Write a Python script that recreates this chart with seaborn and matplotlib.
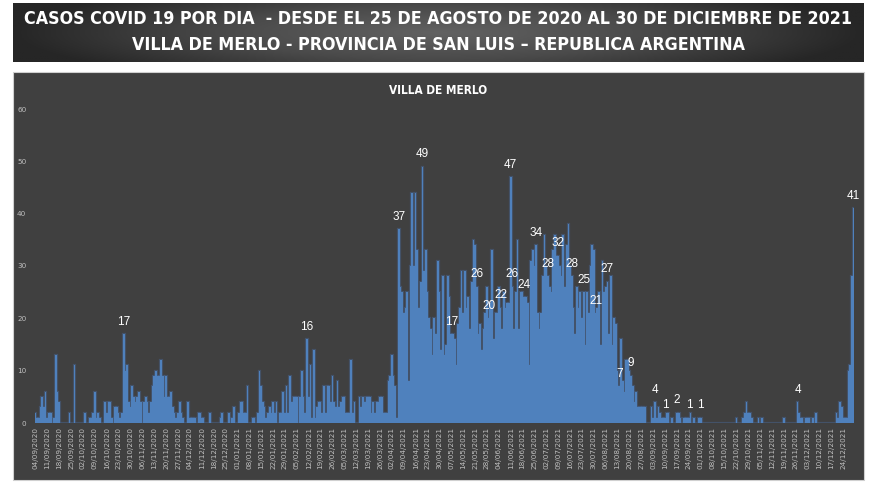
import numpy as np
import pandas as pd
import matplotlib
matplotlib.use("Agg")
import matplotlib.pyplot as plt
import seaborn as sns
from matplotlib import font_manager as fm
from matplotlib.colors import LinearSegmentedColormap
from matplotlib.patches import Rectangle

# ---------------- data (daily cases) ----------------
start_date = "2020-09-04"
sep_2020 = [2, 1, 1, 3, 5, 3, 6, 1, 2, 2, 0, 1, 13, 6, 4, 0, 0, 0, 0, 0, 2, 0, 0, 11, 0, 0, 0]
oct_2020 = [0, 0, 2, 0, 0, 1, 1, 2, 6, 1, 2, 1, 0, 0, 4, 2, 4, 4, 1, 0, 3, 3, 2, 1, 2, 17, 10, 11, 4, 3, 7]
nov_2020 = [5, 4, 5, 6, 4, 0, 4, 5, 4, 2, 4, 7, 9, 10, 9, 9, 12, 9, 5, 9, 5, 5, 6, 3, 2, 1, 2, 4, 2, 1]
dec_2020 = [0, 0, 4, 1, 1, 1, 1, 0, 2, 2, 1, 1, 0, 0, 0, 2, 0, 0, 0, 0, 0, 1, 2, 0, 0, 0, 2, 0, 1, 3, 0]
jan_2021 = [0, 2, 4, 4, 2, 2, 7, 0, 0, 1, 1, 0, 2, 10, 7, 4, 3, 1, 2, 3, 2, 4, 2, 4, 0, 2, 2, 6, 2, 7, 2]
feb_2021 = [9, 4, 5, 5, 5, 0, 5, 10, 5, 2, 16, 5, 11, 1, 14, 1, 3, 4, 4, 2, 7, 2, 7, 7, 4, 9, 4, 3]
mar_2021 = [8, 3, 4, 5, 5, 2, 2, 2, 12, 2, 4, 0, 0, 5, 3, 5, 4, 5, 5, 5, 2, 4, 2, 4, 4, 5, 5, 2, 2, 2, 8]
apr_2021 = [9, 13, 9, 7, 1, 37, 26, 25, 21, 22, 25, 8, 30, 44, 30, 44, 33, 22, 27, 49,
            29, 33, 25, 20, 18, 13, 20, 17, 31, 25]
may_2021 = [14, 28, 13, 15, 28, 24, 17, 17, 16, 11, 19, 22, 29, 21, 29, 22, 24, 18, 27, 35,
            34, 26, 17, 19, 14, 18, 21, 26, 20, 23, 33]
jun_2021 = [16, 21, 21, 26, 22, 18, 25, 22, 23, 23, 47, 26, 18, 25, 35, 18, 25, 25, 24, 24,
            23, 11, 31, 33, 30, 34, 21, 18, 21, 28]
jul_2021 = [36, 30, 28, 26, 25, 33, 36, 32, 32, 30, 28, 36, 26, 34, 38, 30, 28, 22, 17, 26,
            22, 25, 20, 25, 15, 25, 21, 30, 34, 33, 21]
aug_2021 = [22, 25, 15, 31, 25, 26, 27, 17, 28, 15, 20, 19, 10, 7, 16, 8, 6, 12, 12, 10,
            9, 7, 4, 6, 3, 3, 3, 3, 3, 0, 0]
sep_2021 = [0, 3, 1, 4, 1, 3, 2, 1, 1, 1, 2, 2, 0, 1, 0, 0, 2, 2, 1, 0, 1, 1, 1, 1, 2, 0, 1, 0, 0, 1]
oct_2021 = [1, 0, 0, 0, 0, 0, 0, 0, 0, 0, 0, 0, 0, 0, 0, 0, 0, 0, 0, 0, 0, 1, 0, 0, 0, 1, 2, 4, 2, 2, 1]
nov_2021 = [0, 0, 0, 1, 0, 1, 0, 0, 0, 0, 0, 0, 0, 0, 0, 0, 0, 0, 1, 0, 0, 0, 0, 0, 0, 0, 4, 2, 1, 1]
dec_2021 = [0, 1, 1, 1, 0, 1, 0, 2, 0, 0, 0, 0, 0, 0, 0, 0, 0, 0, 0, 2, 1, 4, 3, 1, 1, 1, 10, 11, 28, 41]

label_dates = ["2020-10-26", "2021-02-11", "2021-04-06", "2021-04-20", "2021-05-07",
               "2021-05-22", "2021-05-29", "2021-06-05", "2021-06-11", "2021-06-12",
               "2021-06-19", "2021-06-26", "2021-07-03", "2021-07-09", "2021-07-17",
               "2021-07-24", "2021-07-31", "2021-08-07", "2021-08-14", "2021-08-21",
               "2021-09-04", "2021-09-10", "2021-09-17", "2021-09-24", "2021-10-01",
               "2021-11-27", "2021-12-30"]

title_line1 = "CASOS COVID 19 POR DIA  - DESDE EL 25 DE AGOSTO DE 2020 AL 30 DE DICIEMBRE DE 2021"
title_line2 = "VILLA DE MERLO - PROVINCIA DE SAN LUIS \u2013 REPUBLICA ARGENTINA"
panel_title = "VILLA DE MERLO"
y_ticks = [0, 10, 20, 30, 40, 50, 60]
tick_every_days = 7

cases = (sep_2020 + oct_2020 + nov_2020 + dec_2020 + jan_2021 + feb_2021 + mar_2021 +
         apr_2021 + may_2021 + jun_2021 + jul_2021 + aug_2021 + sep_2021 + oct_2021 +
         nov_2021 + dec_2021)
dates = pd.date_range(start_date, periods=len(cases), freq="D")
df = pd.DataFrame({"pos": np.arange(len(cases)), "casos": cases})

# ---------------- style ----------------
sns.set_theme(style="white")
names = {f.name for f in fm.fontManager.ttflist}
narrow = ["Liberation Sans Narrow", "DejaVu Sans"] if "Liberation Sans Narrow" in names else ["DejaVu Sans"]
plain = ["Liberation Sans", "DejaVu Sans"]
plt.rcParams["font.family"] = plain

W, H = 875, 491
fig = plt.figure(figsize=(W / 100, H / 100), dpi=100, facecolor="white")

# title banner with soft radial gradient
bax = fig.add_axes([13 / W, 1 - 62 / H, 851 / W, 59 / H])
yy, xx = np.mgrid[-1:1:80j, -1:1:400j]
r = np.clip(np.sqrt(xx ** 2 + (0.55 * yy) ** 2), 0, 1)
cmap = LinearSegmentedColormap.from_list("banner", ["#626262", "#4a4a4a", "#262626"])
bax.imshow(r, cmap=cmap, aspect="auto", extent=[0, 1, 0, 1], vmin=0, vmax=1)
bax.set_axis_off()

# chart panel (behind everything)
fig.patches.append(Rectangle((13 / W, 11 / H), 851 / W, 408 / H, transform=fig.transFigure,
                             facecolor="#404040", edgecolor="#d0d0d0", linewidth=0.8, zorder=-5))

# main axes
ax = fig.add_axes([34.6 / W, 68 / H, 819.8 / W, 314 / H])
ax.set_facecolor("none")
ax.set_zorder(2)
sns.barplot(data=df, x="pos", y="casos", color="#4a6890", saturation=1, width=1.0,
            linewidth=1.6, edgecolor="#46628a", errorbar=None, ax=ax)
for p in ax.patches:
    p.set_alpha(0.55)
sns.barplot(data=df, x="pos", y="casos", color="#4F81BD", saturation=1, width=1.0,
            linewidth=0, errorbar=None, ax=ax)

ax.set_xlim(-0.5, len(cases) - 0.5)
ax.set_ylim(0, 60)
for s in ax.spines.values():
    s.set_visible(False)
ax.set_xlabel("")
ax.set_ylabel("")

tick_pos = list(range(0, len(cases), tick_every_days))
ax.set_xticks(tick_pos)
ax.set_xticklabels([dates[i].strftime("%d/%m/%Y") for i in tick_pos], rotation=90,
                   fontsize=5.2, color="#bfbfbf", family=["DejaVu Sans"])
ax.set_yticks(y_ticks)
ax.set_yticklabels([str(v) for v in y_ticks], fontsize=5.2, color="#bfbfbf", family=["DejaVu Sans"])
ax.tick_params(axis="x", length=0, pad=3)
ax.tick_params(axis="y", length=0, pad=6)

# data labels
for d in label_dates:
    i = int((pd.Timestamp(d) - dates[0]).days)
    v = cases[i]
    ax.annotate(str(v), (i, v), xytext=(0, 9), textcoords="offset points", ha="center",
                va="center", color="white", fontsize=8.5, family=plain, zorder=5)

# titles (fit to the widths seen in the picture)
t1 = fig.text(438 / W, 1 - 19.5 / H, title_line1, ha="center", va="center", color="white",
              fontsize=15, fontweight="bold", fontstretch="condensed", family=narrow)
t2 = fig.text(438 / W, 1 - 44.5 / H, title_line2, ha="center", va="center", color="white",
              fontsize=15, fontweight="bold", fontstretch="condensed", family=narrow)
t3 = fig.text(438 / W, 1 - 90 / H, panel_title, ha="center", va="center", color="white",
              fontsize=8, fontweight="bold", fontstretch="condensed", family=narrow)
fig.canvas.draw()
rend = fig.canvas.get_renderer()
w1 = t1.get_window_extent(rend).width
s1 = min(15 * 830 / w1, 16)
t1.set_fontsize(s1)
t2.set_fontsize(s1)
w3 = t3.get_window_extent(rend).width
t3.set_fontsize(min(8 * 99 / w3, 8.5))

fig.savefig("out.png", dpi=100, facecolor="white")
